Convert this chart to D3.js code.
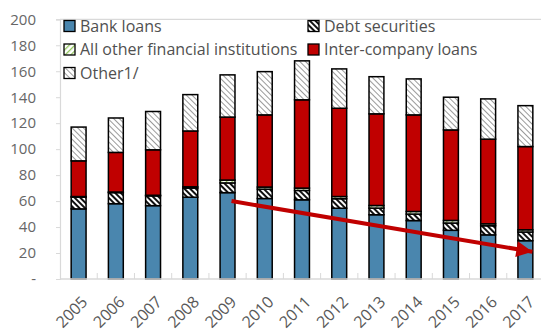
<!DOCTYPE html>
<html>
<head>
<meta charset="utf-8">
<script src="https://cdn.jsdelivr.net/npm/d3@7"></script>
<style>
  html, body { margin: 0; padding: 0; background: #fff; }
  svg { display: block; font-family: "Open Sans", "Noto Sans", sans-serif; }
</style>
</head>
<body>
<svg id="chart" width="541" height="333"></svg>
<script>
// Years on the category axis
const years = ["2005","2006","2007","2008","2009","2010","2011","2012","2013","2014","2015","2016","2017"];

// Stacked components, bottom to top
const bankLoans      = [54, 58, 56.5, 63, 66.5, 62, 61, 54.5, 49.5, 45, 37.5, 34, 29.5];
const debtSecurities = [9, 8.5, 7.5, 7, 7.5, 7.2, 7.2, 7.3, 5.1, 5, 5.6, 7, 6.7];
const allOtherFin    = [0.5, 0.5, 0.5, 1, 2.2, 1.6, 1.8, 1.7, 2, 2, 2, 1.5, 1.7];
const interCompany   = [27.5, 30.5, 35, 43, 48.5, 55.6, 68, 68, 70.6, 74.4, 69.7, 65.2, 64.1];
const other          = [26, 26.5, 29.5, 28, 32.5, 33.3, 30, 30.3, 28.6, 27.7, 25.2, 31, 31.5];

// Y axis ticks (zero shown as a dash)
const yTicks = [0, 20, 40, 60, 80, 100, 120, 140, 160, 180, 200];
const yTickLabels = ["-", "20", "40", "60", "80", "100", "120", "140", "160", "180", "200"];

// Trend arrow on bank loans
const trendFrom = { year: "2009", value: 60 };
const trendTo   = { year: "2017", value: 21 };

const seriesKeys = ["bank", "debt", "allOther", "inter", "other"];
const seriesNames = {
  bank: "Bank loans",
  debt: "Debt securities",
  allOther: "All other financial institutions",
  inter: "Inter-company loans",
  other: "Other1/"
};
const seriesFill = {
  bank: "#4A86AE",
  debt: "url(#hatchDebt)",
  allOther: "url(#hatchAllOther)",
  inter: "#C00000",
  other: "url(#hatchOther)"
};

const rows = years.map((y, i) => ({
  year: y,
  bank: bankLoans[i],
  debt: debtSecurities[i],
  allOther: allOtherFin[i],
  inter: interCompany[i],
  other: other[i]
}));

const svg = d3.select("#chart");
const margin = { left: 60, top: 19.3, right: -3, bottom: 54 };
const W = 541, H = 333;

// Fill patterns
const defs = svg.append("defs");
function hatch(id, angle, size, color, lineW, bg) {
  const p = defs.append("pattern")
    .attr("id", id).attr("patternUnits", "userSpaceOnUse")
    .attr("width", size).attr("height", size)
    .attr("patternTransform", `rotate(${angle})`);
  p.append("rect").attr("width", size).attr("height", size).attr("fill", bg);
  p.append("rect").attr("width", lineW).attr("height", size).attr("fill", color);
}
hatch("hatchDebt", -45, 4, "#111", 2, "#fff");
hatch("hatchOther", -45, 4, "#9a9a9a", 1, "#fff");
hatch("hatchAllOther", 45, 4, "#8fc35a", 1.3, "#fff");

const x = d3.scaleBand()
  .domain(years)
  .range([margin.left, W - margin.right])
  .paddingInner(0.6)
  .paddingOuter(0.3);

const y = d3.scaleLinear()
  .domain([0, 200])
  .range([H - margin.bottom, margin.top]);

const axisColor = "#d9d9d9";

// Plot area top border
svg.append("line")
  .attr("x1", margin.left).attr("x2", W - margin.right)
  .attr("y1", y(200)).attr("y2", y(200))
  .attr("stroke", axisColor).attr("stroke-width", 1.2);

// Y axis
const yAxis = svg.append("g")
  .attr("transform", `translate(${margin.left},0)`)
  .call(d3.axisLeft(y).tickValues(yTicks).tickSize(4).tickPadding(20)
    .tickFormat((d, i) => yTickLabels[i]));
yAxis.select(".domain").attr("stroke", axisColor).attr("stroke-width", 1.2);
yAxis.selectAll(".tick line").attr("stroke", axisColor);
yAxis.selectAll(".tick text")
  .attr("fill", "#666").style("font-size", "15px")
  .attr("font-family", "'Open Sans', sans-serif");

// Stacked bars
const stack = d3.stack().keys(seriesKeys);
const layers = stack(rows);

const gBars = svg.append("g");
layers.forEach(layer => {
  gBars.append("g")
    .selectAll("rect")
    .data(layer)
    .join("rect")
    .attr("x", d => x(d.data.year))
    .attr("width", x.bandwidth())
    .attr("y", d => y(d[1]))
    .attr("height", d => y(d[0]) - y(d[1]))
    .attr("fill", seriesFill[layer.key])
    .attr("stroke", "#000")
    .attr("stroke-width", 1.5);
});

// X axis with inward ticks between categories
const xBase = y(0);
svg.append("line")
  .attr("x1", margin.left).attr("x2", W - margin.right)
  .attr("y1", xBase).attr("y2", xBase)
  .attr("stroke", axisColor).attr("stroke-width", 1.5);
const step = x.step();
svg.append("g").selectAll("line")
  .data(years.slice(1))
  .join("line")
  .attr("x1", d => x(d) - (step - x.bandwidth()) / 2)
  .attr("x2", d => x(d) - (step - x.bandwidth()) / 2)
  .attr("y1", xBase).attr("y2", xBase - 6)
  .attr("stroke", axisColor).attr("stroke-width", 1);

// Rotated year labels
svg.append("g").selectAll("text")
  .data(years)
  .join("text")
  .attr("transform", d => `translate(${x(d) + x.bandwidth() / 2 + 6},${xBase + 20}) rotate(-45)`)
  .attr("text-anchor", "end")
  .attr("dy", "0.35em")
  .attr("fill", "#595959")
  .style("font-size", "16px")
  .text(d => d);

// Trend arrow
defs.append("marker")
  .attr("id", "arrowHead")
  .attr("viewBox", "0 0 10 10")
  .attr("refX", 10).attr("refY", 5)
  .attr("markerWidth", 4.4).attr("markerHeight", 4)
  .attr("markerUnits", "strokeWidth")
  .attr("orient", "auto")
  .append("path")
  .attr("d", "M0,0 L10,5 L0,10 Z")
  .attr("fill", "#C00000");

svg.append("line")
  .attr("x1", x(trendFrom.year) + x.bandwidth() / 2 + 4)
  .attr("y1", y(trendFrom.value))
  .attr("x2", x(trendTo.year) + x.bandwidth() / 2 + 7)
  .attr("y2", y(trendTo.value))
  .attr("stroke", "#C00000")
  .attr("stroke-width", 4)
  .attr("marker-end", "url(#arrowHead)");

// Legend
const legendCols = [
  { key: "bank", col: 0, row: 0 },
  { key: "allOther", col: 0, row: 1 },
  { key: "other", col: 0, row: 2 },
  { key: "debt", col: 1, row: 0 },
  { key: "inter", col: 1, row: 1 }
];
const colX = [64, 308];
const rowY = [26, 49.5, 73];
const gLeg = svg.append("g");
legendCols.forEach(item => {
  const g = gLeg.append("g")
    .attr("transform", `translate(${colX[item.col]},${rowY[item.row]})`);
  g.append("rect")
    .attr("x", 0).attr("y", -5.5)
    .attr("width", 11).attr("height", 11)
    .attr("fill", seriesFill[item.key])
    .attr("stroke", "#000").attr("stroke-width", 1.3);
  g.append("text")
    .attr("x", 16).attr("y", 0).attr("dy", "0.35em")
    .attr("fill", "#505050")
    .style("font-size", "16px")
    .text(seriesNames[item.key]);
});
</script>
</body>
</html>
